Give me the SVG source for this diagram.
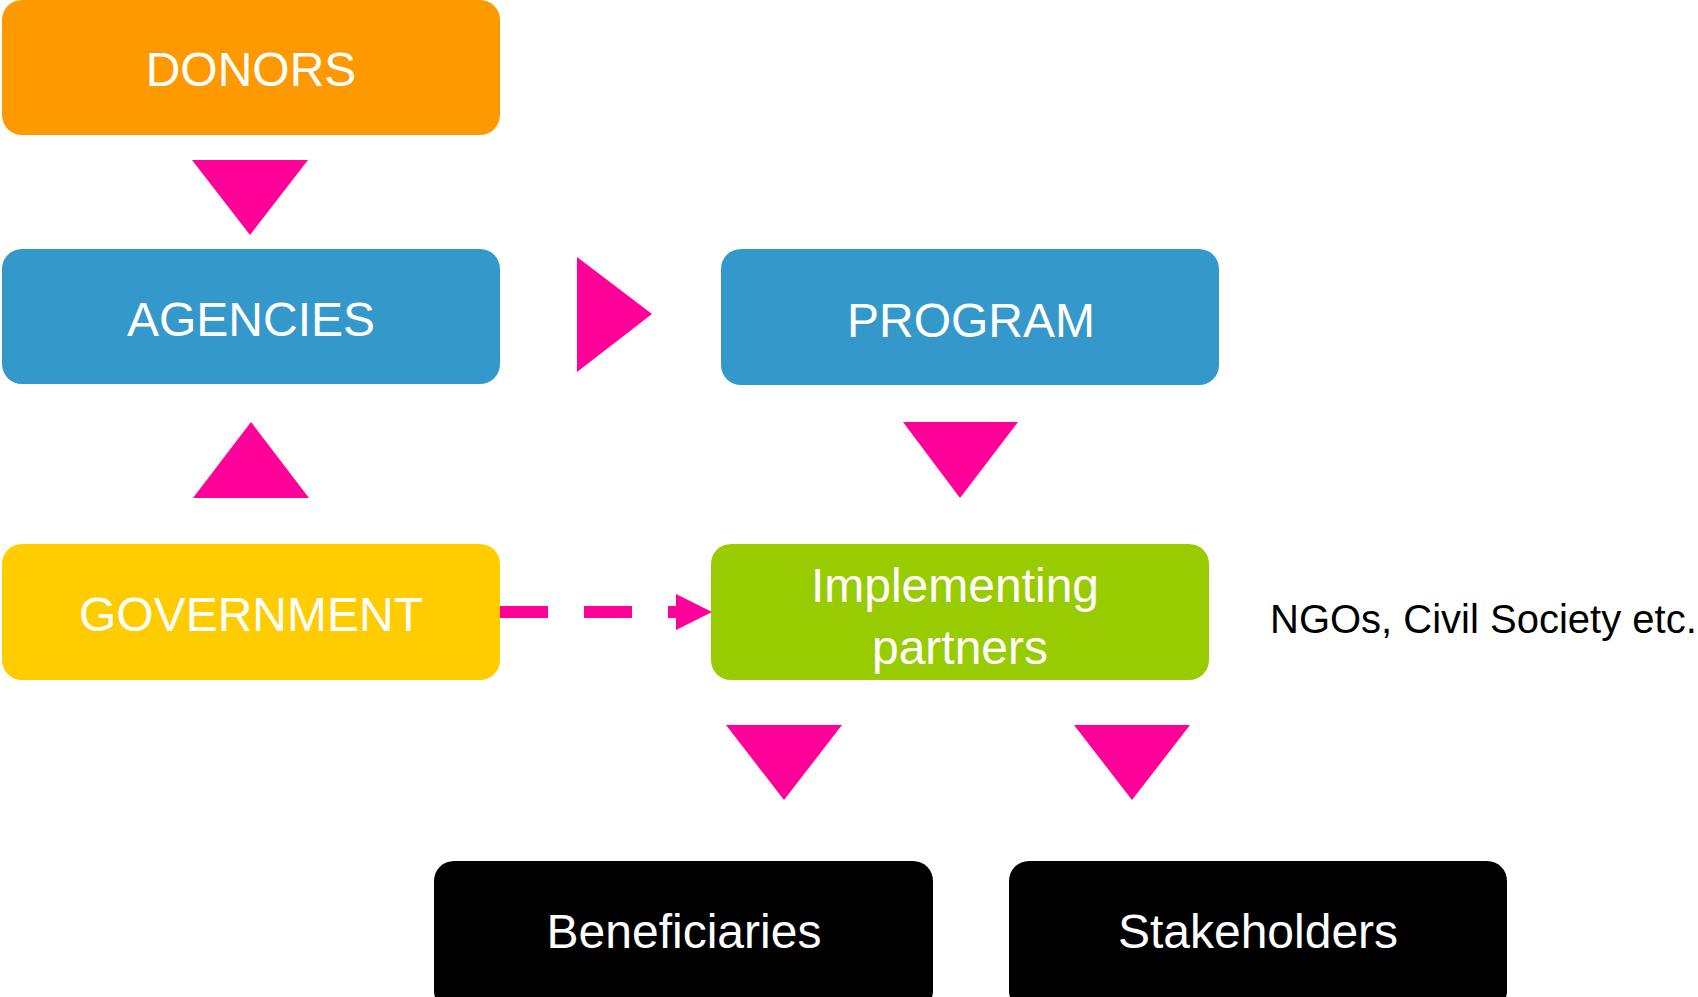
<svg xmlns="http://www.w3.org/2000/svg" width="1698" height="997" viewBox="0 0 1698 997">
<style>
.box{stroke:none}
.lbl{font-family:"Liberation Sans",Arial,sans-serif;font-size:48px;fill:#ffffff;text-anchor:middle}
.tri{fill:#FF0099}
.note{font-family:"Liberation Sans",Arial,sans-serif;font-size:40px;fill:#000000}
</style>
<rect width="1698" height="997" fill="#ffffff"/>
<g id="donors"><rect class="box" x="2" y="0" width="498" height="135" rx="20" fill="#FF9900"/><text class="lbl" x="251" y="86">DONORS</text></g>
<g id="agencies"><rect class="box" x="2" y="249" width="498" height="135" rx="20" fill="#3598CB"/><text class="lbl" x="251" y="336">AGENCIES</text></g>
<g id="program"><rect class="box" x="721" y="249" width="498" height="136" rx="20" fill="#3598CB"/><text class="lbl" x="971" y="337">PROGRAM</text></g>
<g id="government"><rect class="box" x="2" y="544" width="498" height="136" rx="20" fill="#FFCC00"/><text class="lbl" x="251" y="631">GOVERNMENT</text></g>
<g id="implementing"><rect class="box" x="711" y="544" width="498" height="136" rx="20" fill="#99CC00"/><text class="lbl" x="955" y="602">Implementing</text><text class="lbl" x="960" y="664">partners</text></g>
<g id="ngos"><text class="note" x="1270" y="633">NGOs, Civil Society etc.</text></g>
<g id="beneficiaries"><rect class="box" x="434" y="861" width="499" height="150" rx="20" fill="#000000"/><text class="lbl" x="684" y="948">Beneficiaries</text></g>
<g id="stakeholders"><rect class="box" x="1009" y="861" width="498" height="150" rx="20" fill="#000000"/><text class="lbl" x="1258" y="948">Stakeholders</text></g>
<g id="connectors">
<polygon class="tri" points="192,160 308,160 250,235"/>
<polygon class="tri" points="193,498 309,498 251,422"/>
<polygon class="tri" points="577,257 652,314 577,372"/>
<polygon class="tri" points="903,422 1018,422 960,498"/>
<polygon class="tri" points="726,725 842,725 784,800"/>
<polygon class="tri" points="1074,725 1190,725 1132,800"/>
<line x1="500" y1="612" x2="677" y2="612" stroke="#FF0099" stroke-width="12" stroke-dasharray="48 36"/>
<polygon class="tri" points="676,594 712,612 676,630"/>
</g>
</svg>
